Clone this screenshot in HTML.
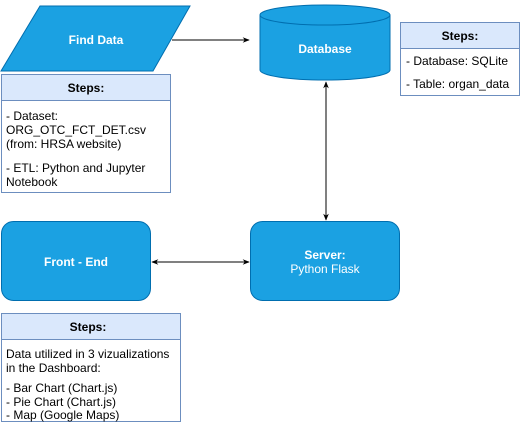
<!DOCTYPE html>
<html><head><meta charset="utf-8"><style>
html,body{margin:0;padding:0;background:#fff;width:521px;height:425px;overflow:hidden}
svg{display:block;font-family:"Liberation Sans",Arial,sans-serif}
</style></head><body>
<svg width="521" height="425" viewBox="0 0 521 425" xmlns="http://www.w3.org/2000/svg">
<defs>
<marker id="a" viewBox="0 0 10 10" refX="9" refY="5" markerWidth="7" markerHeight="7" orient="auto-start-reverse"><path d="M0,1 L10,5 L0,9 L3,5 Z" fill="#000"/></marker>
</defs>
<!-- Find Data -->
<polygon points="40,6 190,6 153,71 1,71" fill="#1ba1e2" stroke="#006eaf"/>
<text x="96" y="44" text-anchor="middle" fill="#fff" font-size="12" font-weight="bold">Find Data</text>
<line x1="172" y1="40" x2="249" y2="40" stroke="#000" marker-end="url(#a)"/>
<!-- Steps 1 -->
<rect x="1.5" y="74.5" width="169" height="118" fill="#fff" stroke="#6c8ebf"/>
<rect x="1.5" y="74.5" width="169" height="26" fill="#dae8fc" stroke="#6c8ebf"/>
<text x="86" y="92" text-anchor="middle" font-size="12" font-weight="bold">Steps:</text>
<g font-size="12"><text x="6" y="120">- Dataset:</text><text x="6" y="134">ORG_OTC_FCT_DET.csv</text><text x="6" y="148">(from: HRSA website)</text><text x="6" y="172">- ETL: Python and Jupyter</text><text x="6" y="186">Notebook</text></g>
<!-- Database -->
<path d="M260,15 A65,10 0 0 1 390,15 L390,70 A65,10 0 0 1 260,70 Z" fill="#1ba1e2" stroke="#006eaf"/>
<path d="M260,15 A65,10 0 0 0 390,15" fill="none" stroke="#006eaf"/>
<text x="325" y="53" text-anchor="middle" fill="#fff" font-size="12" font-weight="bold">Database</text>
<!-- Steps 2 -->
<rect x="400.5" y="22.5" width="119" height="73" fill="#fff" stroke="#6c8ebf"/>
<rect x="400.5" y="22.5" width="119" height="26" fill="#dae8fc" stroke="#6c8ebf"/>
<text x="460" y="40" text-anchor="middle" font-size="12" font-weight="bold">Steps:</text>
<g font-size="12"><text x="406" y="65">- Database: SQLite</text><text x="406" y="88">- Table: organ_data</text></g>
<line x1="326" y1="82" x2="326" y2="220" stroke="#000" marker-start="url(#a)" marker-end="url(#a)"/>
<!-- Front-End -->
<rect x="1.5" y="221.5" width="149" height="79" rx="12" fill="#1ba1e2" stroke="#006eaf"/>
<text x="76" y="266" text-anchor="middle" fill="#fff" font-size="12" font-weight="bold">Front - End</text>
<rect x="250.5" y="221.5" width="149" height="79" rx="12" fill="#1ba1e2" stroke="#006eaf"/>
<text x="325" y="259" text-anchor="middle" fill="#fff" font-size="12" font-weight="bold">Server:</text>
<text x="325" y="273" text-anchor="middle" fill="#fff" font-size="12">Python Flask</text>
<line x1="152" y1="262" x2="249" y2="262" stroke="#000" marker-start="url(#a)" marker-end="url(#a)"/>
<!-- Steps 3 -->
<rect x="1.5" y="313.5" width="179" height="108" fill="#fff" stroke="#6c8ebf"/>
<rect x="1.5" y="313.5" width="179" height="26" fill="#dae8fc" stroke="#6c8ebf"/>
<text x="88" y="331" text-anchor="middle" font-size="12" font-weight="bold">Steps:</text>
<g font-size="12"><text x="6" y="358">Data utilized in 3 vizualizations</text><text x="6" y="372">in the Dashboard:</text><text x="6" y="392">- Bar Chart (Chart.js)</text><text x="6" y="406">- Pie Chart (Chart.js)</text><text x="6" y="419">- Map (Google Maps)</text></g>
</svg>
</body></html>
